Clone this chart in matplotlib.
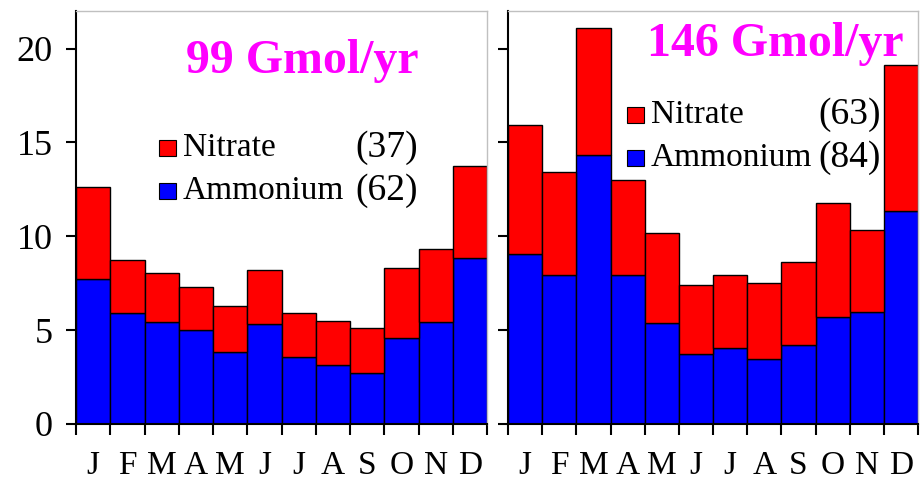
import numpy as np
import matplotlib
matplotlib.use("Agg")
import matplotlib.pyplot as plt
from matplotlib.patches import Rectangle

plt.rcParams['font.family'] = ['Liberation Serif', 'DejaVu Serif']
plt.rcParams['font.size'] = 18

months = ["J", "F", "M", "A", "M", "J", "J", "A", "S", "O", "N", "D"]

# left panel (99 Gmol/yr)
amm_a = [7.73, 5.90, 5.46, 5.00, 3.85, 5.32, 3.58, 3.12, 2.71, 4.57, 5.41, 8.83]
tot_a = [12.60, 8.72, 8.05, 7.29, 6.29, 8.19, 5.92, 5.51, 5.14, 8.32, 9.31, 13.76]
# right panel (146 Gmol/yr)
amm_b = [9.04, 7.93, 14.33, 7.93, 5.39, 3.72, 4.04, 3.48, 4.20, 5.71, 5.96, 11.35]
tot_b = [15.94, 13.44, 21.12, 12.98, 10.16, 7.38, 7.93, 7.52, 8.62, 11.79, 10.34, 19.10]

titles = ["99 Gmol/yr", "146 Gmol/yr"]
nit_tot = ["(37)", "(63)"]
amm_tot = ["(62)", "(84)"]

fig = plt.figure(figsize=(9.22, 4.83), dpi=100)
ax1 = fig.add_axes([76/922, 59/483, 411/922, 413/483])
ax2 = fig.add_axes([508/922, 59/483, 410/922, 413/483])

panels = [(ax1, amm_a, tot_a), (ax2, amm_b, tot_b)]
# hand-made legend / title per panel (axes fraction)
title_xy = [(0.550, 0.879), (0.651, 0.920)]
leg_y = [(0.668, 0.564), (0.748, 0.644)]
leg_x = [(0.202, 0.260, 0.679), (0.290, 0.349, 0.756)]

for i, (ax, amm, tot) in enumerate(panels):
    x = np.arange(len(months)) + 0.5
    nit = np.array(tot) - np.array(amm)
    ax.bar(x, amm, width=1.0, color="#0000ff", edgecolor="black", linewidth=1.0)
    ax.bar(x, nit, bottom=amm, width=1.0, color="#ff0000", edgecolor="black", linewidth=1.0)
    ax.set_xlim(0, 12)
    ax.set_ylim(0, 22)
    ax.set_xticks(np.arange(13))
    ax.set_xticklabels([])
    ax.set_xticks(x, minor=True)
    ax.set_xticklabels(months, minor=True)
    ax.tick_params(axis="x", which="major", direction="out", length=8, width=1.5)
    ax.tick_params(axis="x", which="minor", length=0, pad=19, labelsize=24)
    ax.set_yticks([0, 5, 10, 15, 20])
    ax.tick_params(axis="y", direction="out", length=7, width=1.5, pad=10, labelsize=26)
    if i == 1:
        ax.set_yticklabels([])
    for s in ["left", "bottom"]:
        ax.spines[s].set_linewidth(1.5)
    for s in ["top", "right"]:
        ax.spines[s].set_color("#c0c0c0")
        ax.spines[s].set_linewidth(1.0)

    ax.text(title_xy[i][0], title_xy[i][1], titles[i], transform=ax.transAxes,
            color="#ff00ff", fontsize=34.5, fontweight="bold", ha="center", va="center")
    px, tx, nx = leg_x[i]
    for yy, col, lab, val in [(leg_y[i][0], "#ff0000", "Nitrate", nit_tot[i]),
                              (leg_y[i][1], "#0000ff", "Ammonium", amm_tot[i])]:
        ax.add_patch(Rectangle((px, yy - 0.0195), 0.041, 0.039,
                               transform=ax.transAxes, facecolor=col,
                               edgecolor="black", linewidth=0.8, clip_on=False))
        ax.text(tx, yy, lab, transform=ax.transAxes, fontsize=24,
                ha="left", va="center")
        ax.text(nx, yy, val, transform=ax.transAxes, fontsize=27,
                ha="left", va="center")

fig.savefig("out.png", dpi=100)
